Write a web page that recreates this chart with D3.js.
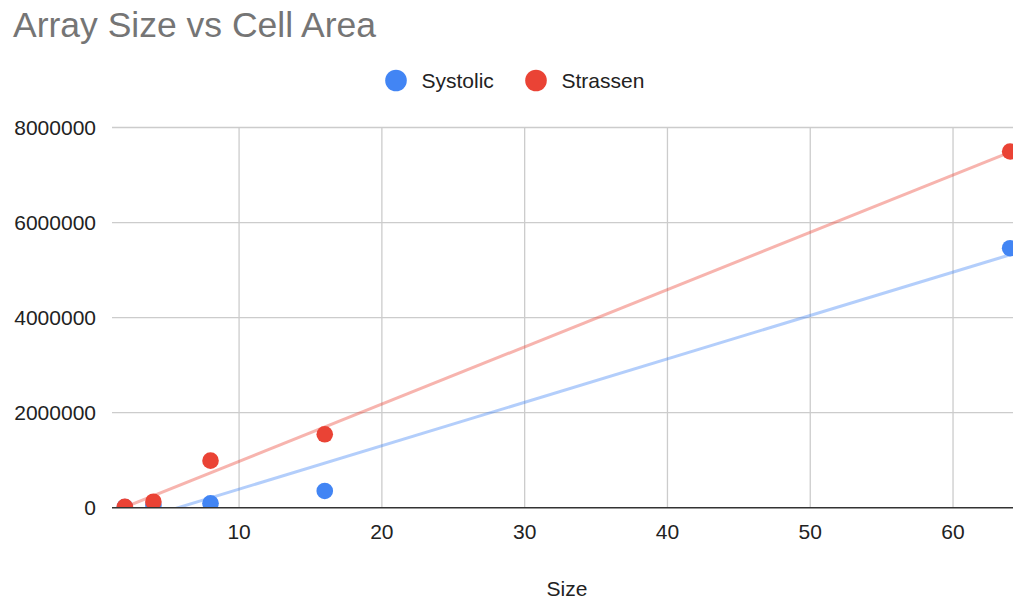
<!DOCTYPE html>
<html>
<head>
<meta charset="utf-8">
<script src="https://cdn.jsdelivr.net/npm/d3@7"></script>
<style>
  html, body { margin: 0; padding: 0; background: #fff; }
  svg { display: block; font-family: "Liberation Sans", Arial, sans-serif; }
</style>
</head>
<body>
<svg id="chart" width="1013" height="600"></svg>
<script>
// Array size (x) vs cell area (y) for the two multiplier designs
const sizes = [2, 4, 8, 16, 64];
const systolic = [12000, 55000, 92000, 352000, 5460000];
const strassen = [20000, 126000, 990000, 1545000, 7495000];
const xTicks = [10, 20, 30, 40, 50, 60];
const yTicks = [0, 2000000, 4000000, 6000000, 8000000];
const seriesNames = ["Systolic", "Strassen"];
const seriesColors = ["#4285f4", "#ea4335"];

const svg = d3.select("#chart");
const W = 1013, H = 600;
const plot = { left: 112, right: 1013, top: 127.5, bottom: 507.7 };

const x = d3.scaleLinear().domain([1.1, 64.2]).range([plot.left, plot.right]);
const y = d3.scaleLinear().domain([0, 8000000]).range([plot.bottom, plot.top]);

// Marks are cut off at the zero baseline
svg.append("defs").append("clipPath").attr("id", "plotClip")
  .append("rect")
  .attr("x", plot.left - 20).attr("y", plot.top - 20)
  .attr("width", W - plot.left + 20)
  .attr("height", plot.bottom - plot.top + 20);

// Title
svg.append("text")
  .attr("x", 13).attr("y", 37)
  .attr("font-size", 35.5)
  .attr("fill", "#757575")
  .text("Array Size vs Cell Area");

// Legend
const legend = svg.append("g");
const legendX = [396, 536];
seriesNames.forEach((name, i) => {
  legend.append("circle")
    .attr("cx", legendX[i]).attr("cy", 80.5).attr("r", 10.8)
    .attr("fill", seriesColors[i]);
  legend.append("text")
    .attr("x", legendX[i] + 25.5).attr("y", 87.5)
    .attr("font-size", 21)
    .attr("fill", "#222")
    .text(name);
});

// Gridlines
const grid = svg.append("g");
grid.selectAll("line.h")
  .data(yTicks.filter(d => d !== 0))
  .join("line")
  .attr("x1", plot.left).attr("x2", plot.right)
  .attr("y1", d => y(d)).attr("y2", d => y(d))
  .attr("stroke", "#cccccc").attr("stroke-width", 1.3);
grid.selectAll("line.v")
  .data(xTicks)
  .join("line")
  .attr("x1", d => x(d)).attr("x2", d => x(d))
  .attr("y1", plot.top).attr("y2", plot.bottom)
  .attr("stroke", "#cccccc").attr("stroke-width", 1.3);

// Linear least-squares trendline for a series
function fit(xs, ys) {
  const n = xs.length;
  const mx = d3.mean(xs), my = d3.mean(ys);
  let sxy = 0, sxx = 0;
  for (let i = 0; i < n; i++) {
    sxy += (xs[i] - mx) * (ys[i] - my);
    sxx += (xs[i] - mx) * (xs[i] - mx);
  }
  const slope = sxy / sxx;
  return { slope, intercept: my - slope * mx };
}

const seriesData = [systolic, strassen];
const trends = svg.append("g").attr("clip-path", "url(#plotClip)");
seriesData.forEach((vals, i) => {
  const f = fit(sizes, vals);
  const x0 = d3.min(sizes), x1 = d3.max(sizes);
  trends.append("line")
    .attr("x1", x(x0)).attr("y1", y(f.intercept + f.slope * x0))
    .attr("x2", x(x1)).attr("y2", y(f.intercept + f.slope * x1))
    .attr("stroke", seriesColors[i])
    .attr("stroke-opacity", 0.4)
    .attr("stroke-width", 3);
});

// Points
const points = svg.append("g").attr("clip-path", "url(#plotClip)");
seriesData.forEach((vals, i) => {
  points.append("g")
    .selectAll("circle")
    .data(sizes.map((s, j) => [s, vals[j]]))
    .join("circle")
    .attr("cx", d => x(d[0]))
    .attr("cy", d => y(d[1]))
    .attr("r", 8.3)
    .attr("fill", seriesColors[i]);
});

// Baseline (zero) axis
svg.append("line")
  .attr("x1", plot.left).attr("x2", plot.right)
  .attr("y1", y(0)).attr("y2", y(0))
  .attr("stroke", "#333").attr("stroke-width", 1.5);

// Y tick labels
svg.append("g").selectAll("text")
  .data(yTicks)
  .join("text")
  .attr("x", 96).attr("y", d => y(d))
  .attr("dy", "0.36em")
  .attr("text-anchor", "end")
  .attr("font-size", 21)
  .attr("fill", "#222")
  .text(d => d3.format("d")(d));

// X tick labels
svg.append("g").selectAll("text")
  .data(xTicks)
  .join("text")
  .attr("x", d => x(d)).attr("y", 538.5)
  .attr("text-anchor", "middle")
  .attr("font-size", 21)
  .attr("fill", "#222")
  .text(d => d);

// X axis title
svg.append("text")
  .attr("x", 567).attr("y", 596)
  .attr("text-anchor", "middle")
  .attr("font-size", 21)
  .attr("fill", "#222")
  .text("Size");
</script>
</body>
</html>
